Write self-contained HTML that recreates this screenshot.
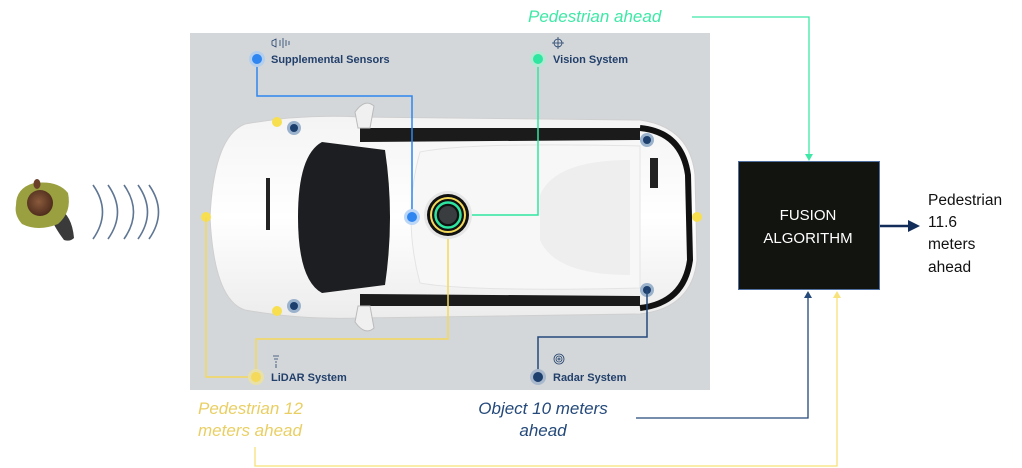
<!DOCTYPE html>
<html><head><meta charset="utf-8"><style>
html,body{margin:0;padding:0;background:#fff;width:1022px;height:468px;overflow:hidden}
svg{display:block}
text{font-family:"Liberation Sans",sans-serif}
</style></head><body>
<svg width="1022" height="468" viewBox="0 0 1022 468" xmlns="http://www.w3.org/2000/svg">
<defs>
<radialGradient id="hd" cx="0.45" cy="0.45" r="0.6"><stop offset="0" stop-color="#8a5a3c"/><stop offset="1" stop-color="#4a2a1a"/></radialGradient>
<linearGradient id="body" x1="0" y1="0" x2="0" y2="1"><stop offset="0" stop-color="#f4f4f4"/><stop offset="0.5" stop-color="#ffffff"/><stop offset="1" stop-color="#ececec"/></linearGradient>
</defs>
<rect x="190" y="33" width="520" height="357" fill="#d3d7da"/>

<!-- car -->
<path d="M245,124 Q300,114 360,117 L640,120 Q690,127 695,175 L697,260 Q692,308 640,314 L360,318 Q300,320 245,310 Q214,300 210,217 Q214,136 245,124 Z" fill="url(#body)" stroke="#cfcfcf"/>
<path d="M640,128 Q682,132 688,175 L690,260 Q684,303 640,308" fill="none" stroke="#111" stroke-width="6"/>
<path d="M322,142 L385,150 Q395,217 385,285 L322,293 Q298,280 298,217 Q298,155 322,142 Z" fill="#1d1e21"/>
<path d="M360,128 L640,128 L640,140 L360,142 Z" fill="#1b1b1b"/>
<path d="M360,294 L640,296 L640,306 L360,306 Z" fill="#1b1b1b"/>
<path d="M420,152 Q470,142 640,146 L640,288 Q470,292 420,283 Q402,217 420,152Z" fill="#f7f7f7" stroke="#e4e4e4"/>
<path d="M540,195 Q555,160 630,160 L630,275 Q555,275 540,240 Z" fill="#eeeeee"/>
<rect x="266" y="178" width="4" height="52" fill="#222"/>
<rect x="650" y="158" width="8" height="30" fill="#222"/>
<path d="M355,112 Q365,98 374,106 L370,128 L358,128Z" fill="#f0f0f0" stroke="#bbb"/>
<path d="M355,322 Q365,336 374,328 L370,306 L358,306Z" fill="#f0f0f0" stroke="#bbb"/>

<g fill="#f7df4f"><circle cx="277" cy="122" r="5"/><circle cx="277" cy="311" r="5"/><circle cx="206" cy="217" r="5"/><circle cx="697" cy="217" r="5"/></g>
<g fill="#9bb2cc"><circle cx="294" cy="128" r="7"/><circle cx="294" cy="306" r="7"/><circle cx="647" cy="140" r="7"/><circle cx="647" cy="290" r="7"/></g>
<g fill="#1d3f6e"><circle cx="294" cy="128" r="4"/><circle cx="294" cy="306" r="4"/><circle cx="647" cy="140" r="4"/><circle cx="647" cy="290" r="4"/></g>

<polyline points="257,59 257,96 412,96 412,217" fill="none" stroke="#2f86f0" stroke-width="1.5"/>
<polyline points="538,59 538,215 468,215" fill="none" stroke="#2ee6a0" stroke-width="1.5"/>
<polyline points="448,235 448,339 256,339 256,377" fill="none" stroke="#f4d95a" stroke-width="1.5"/>
<polyline points="206,217 206,377 256,377" fill="none" stroke="#f4d95a" stroke-width="1.5"/>
<polyline points="647,290 647,337 538,337 538,377" fill="none" stroke="#24497a" stroke-width="1.5"/>

<circle cx="448" cy="215" r="24" fill="#e6e6e6"/>
<circle cx="448" cy="215" r="21" fill="#111"/>
<circle cx="448" cy="215" r="17" fill="none" stroke="#f4d95a" stroke-width="2"/>
<circle cx="448" cy="215" r="12.5" fill="none" stroke="#2ee6a0" stroke-width="2.5"/>
<circle cx="448" cy="215" r="9" fill="#3a3d40"/>
<circle cx="412" cy="217" r="8" fill="#bcd6f7"/><circle cx="412" cy="217" r="5" fill="#2f86f0"/>

<circle cx="257" cy="59" r="8" fill="#b4cfee"/><circle cx="257" cy="59" r="5" fill="#2f86f0"/>
<circle cx="538" cy="59" r="8" fill="#b4e8d2"/><circle cx="538" cy="59" r="5" fill="#2ee6a0"/>
<circle cx="256" cy="377" r="8" fill="#e9e0a8"/><circle cx="256" cy="377" r="5" fill="#f4d95a"/>
<circle cx="538" cy="377" r="8" fill="#a9b8cc"/><circle cx="538" cy="377" r="5" fill="#1d3f6e"/>

<g font-size="11" font-weight="bold" fill="#23406b">
<text x="271" y="63">Supplemental Sensors</text>
<text x="553" y="63">Vision System</text>
<text x="271" y="381">LiDAR System</text>
<text x="553" y="381">Radar System</text>
</g>
<g stroke="#23406b" fill="none" stroke-width="0.8">
<path d="M272,41 l4,-2 v8 l-4,-2 z"/><path d="M280,40 v6 M283,38 v10 M286,40 v6 M289,41 v4"/>
<circle cx="558" cy="43" r="4"/><path d="M558,37 v12 M552,43 h12"/>
<path d="M273,356 h6 M274,359 h4 M275,362 h2 M276,364 v4"/>
<circle cx="559" cy="359" r="5"/><circle cx="559" cy="359" r="3"/><circle cx="559" cy="359" r="1"/>
</g>

<!-- person -->
<path d="M58,208 Q72,215 74,238 Q70,242 64,240 Q55,228 52,220Z" fill="#3a3a3a"/>
<path d="M16,205 Q16,188 34,183 Q58,180 68,193 Q72,212 58,224 Q38,232 22,224 Q14,215 16,205Z" fill="#9aa040"/>
<circle cx="40" cy="203" r="13" fill="url(#hd)"/>
<ellipse cx="37" cy="184" rx="3.5" ry="5" fill="#6a4028"/>
<g fill="none" stroke="#5e7593" stroke-width="1.6">
<path d="M93,185 Q112,212 93,239"/>
<path d="M108,185 Q127,212 108,239"/>
<path d="M124,185 Q143,212 124,239"/>
<path d="M138,185 Q157,212 138,239"/>
<path d="M149,185 Q168,212 149,239"/>
</g>

<text x="528" y="22" font-size="17" font-style="italic" fill="#3ee8a6">Pedestrian ahead</text>
<g font-size="17" font-style="italic" fill="#e9cf63">
<text x="198" y="414">Pedestrian 12</text>
<text x="198" y="436">meters ahead</text>
</g>
<g font-size="17" font-style="italic" fill="#24497a" text-anchor="middle">
<text x="543" y="414">Object 10 meters</text>
<text x="543" y="436">ahead</text>
</g>

<polyline points="692,17 809,17 809,155" fill="none" stroke="#3ee8a6" stroke-width="1.3"/>
<path d="M805,154 L813,154 L809,161Z" fill="#3ee8a6"/>
<polyline points="636,418 808,418 808,297" fill="none" stroke="#24497a" stroke-width="1.3"/>
<path d="M804,298 L812,298 L808,291Z" fill="#24497a"/>
<polyline points="255,447 255,466 837,466 837,297" fill="none" stroke="#f8e27a" stroke-width="1.3"/>
<path d="M833,298 L841,298 L837,291Z" fill="#f8e27a"/>

<rect x="738.5" y="161.5" width="141" height="128" fill="#12140f" stroke="#4f6fa0" stroke-width="1"/>
<g fill="#fff" font-size="15" text-anchor="middle">
<text x="808" y="220">FUSION</text>
<text x="808" y="243">ALGORITHM</text>
</g>
<line x1="880" y1="226" x2="910" y2="226" stroke="#132d5a" stroke-width="2.5"/>
<path d="M908,220 L920,226 L908,232Z" fill="#132d5a"/>
<g font-size="15.5" fill="#111">
<text x="928" y="205">Pedestrian</text>
<text x="928" y="227">11.6</text>
<text x="928" y="249">meters</text>
<text x="928" y="272">ahead</text>
</g>
</svg>
</body></html>
